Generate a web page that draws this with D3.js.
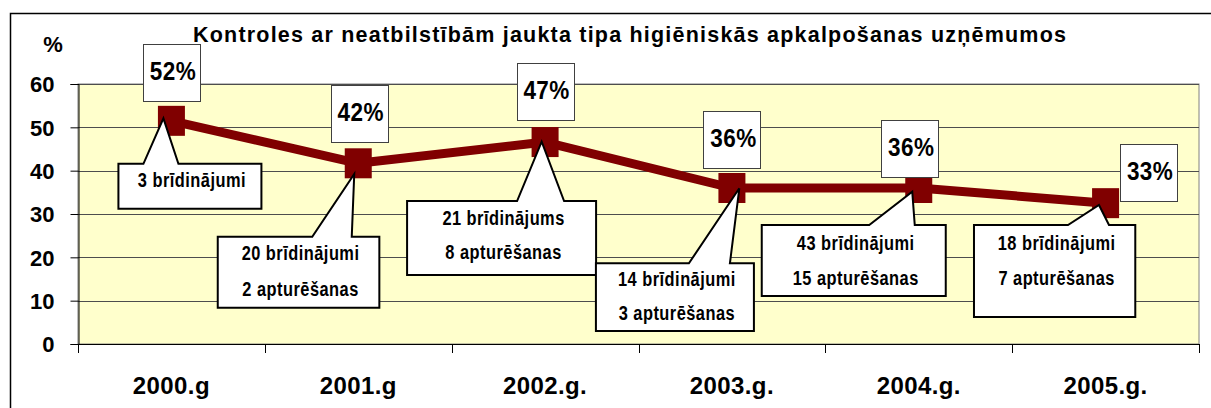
<!DOCTYPE html>
<html>
<head>
<meta charset="utf-8">
<script src="https://cdn.jsdelivr.net/npm/d3@7"></script>
<style>
  body { margin: 0; background: #fff; }
  svg { display: block; }
  .bold { font-family: "Liberation Sans", Arial, sans-serif; font-weight: bold; fill: #000; }
</style>
</head>
<body>
<div id="chart"></div>
<script>
const width = 1211;
const height = 408;

// data
const years = ["2000.g", "2001.g", "2002.g.", "2003.g.", "2004.g.", "2005.g."];
const shares = [51.5, 41.7, 46.6, 36, 36, 32.5];
const shareLabels = ["52%", "42%", "47%", "36%", "36%", "33%"];
const calloutLines = [
  ["3 brīdinājumi"],
  ["20 brīdinājumi", "2 apturēšanas"],
  ["21 brīdinājums", "8 apturēšanas"],
  ["14 brīdinājumi", "3 apturēšanas"],
  ["43 brīdinājumi", "15 apturēšanas"],
  ["18 brīdinājumi", "7 apturēšanas"]
];
const yTicks = [0, 10, 20, 30, 40, 50, 60];
const title = "Kontroles ar neatbilstībām jaukta tipa higiēniskās apkalpošanas uzņēmumos";

// layout of the annotation boxes, offsets from the point
const labelOffsets = [[0, -48], [1, -50], [0, -51], [0, -49], [-9, -40], [43, -31]];
const calloutLayout = [
  { bx: -53, by: 43, bw: 143, bh: 45, p1: -28, p2: 7, ax: -8, ay: -2.5, lines: [23.5] },
  { bx: -140.5, by: 73.4, bw: 161.6, bh: 71, p1: -46, p2: -6.5, ax: -4, ay: 10.7, lines: [23.3, 59.3] },
  { bx: -138, by: 59, bw: 189, bh: 74, p1: -28, p2: 19, ax: -3.4, ay: -0.4, lines: [24, 58] },
  { bx: -136, by: 75.3, bw: 158, bh: 67.7, p1: -43, p2: -2, ax: 7.4, ay: 0.3, lines: [22.7, 56.7] },
  { bx: -157, by: 37, bw: 184, bh: 71, p1: -49.5, p2: -4, ax: -6.5, ay: 3.7, lines: [25, 60] },
  { bx: -131.6, by: 21.8, bw: 161.3, bh: 92, p1: -37.6, p2: 3.4, ax: -6.6, ay: 1.8, lines: [25, 60] }
];

const plot = { left: 78, right: 1199, top: 84, bottom: 344 };

const svg = d3.select("#chart")
  .append("svg")
  .attr("width", width)
  .attr("height", height);

// outer frame
svg.append("path")
  .attr("d", `M10.5,${height + 2}V13.5H${width + 2}`)
  .attr("fill", "none")
  .attr("stroke", "#000")
  .attr("stroke-width", 1.5);

const x = d3.scaleBand().domain(years).range([plot.left, plot.right]);
const y = d3.scaleLinear().domain([0, 60]).range([plot.bottom, plot.top]);

// plot background
svg.append("rect")
  .attr("x", plot.left)
  .attr("y", plot.top)
  .attr("width", plot.right - plot.left)
  .attr("height", plot.bottom - plot.top)
  .attr("fill", "#FFFFCC")
  .attr("stroke", "#808080")
  .attr("stroke-width", 1);

// gridlines
svg.selectAll("line.grid")
  .data(yTicks.filter(d => d > 0))
  .enter()
  .append("line")
  .attr("class", "grid")
  .attr("x1", plot.left)
  .attr("x2", plot.right)
  .attr("y1", d => Math.round(y(d)) + 0.5)
  .attr("y2", d => Math.round(y(d)) + 0.5)
  .attr("stroke", "#4d4d4d")
  .attr("stroke-width", 1);

// y axis
const yAxis = svg.append("g")
  .attr("transform", `translate(${plot.left + 0.5},0)`)
  .call(d3.axisLeft(y).tickValues(yTicks).tickSize(8).tickPadding(16).tickFormat(d3.format("d")));
yAxis.select(".domain").attr("stroke", "#000");
yAxis.selectAll(".tick line").attr("stroke", "#000");
yAxis.selectAll(".tick text")
  .attr("class", "bold")
  .attr("font-size", 22)
  .attr("dy", "0.36em")
  .attr("fill", "#000");

svg.append("text")
  .attr("class", "bold")
  .attr("x", 53)
  .attr("y", 52)
  .attr("text-anchor", "middle")
  .attr("font-size", 22)
  .text("%");

// x axis
svg.append("line")
  .attr("x1", plot.left)
  .attr("x2", plot.right)
  .attr("y1", plot.bottom + 0.5)
  .attr("y2", plot.bottom + 0.5)
  .attr("stroke", "#000");

const boundaries = years.map(d => x(d)).concat([x(years[years.length - 1]) + x.bandwidth()]);
svg.selectAll("line.xtick")
  .data(boundaries)
  .enter()
  .append("line")
  .attr("class", "xtick")
  .attr("x1", d => Math.round(d) + 0.5)
  .attr("x2", d => Math.round(d) + 0.5)
  .attr("y1", plot.bottom)
  .attr("y2", plot.bottom + 9)
  .attr("stroke", "#000");

svg.selectAll("text.xlabel")
  .data(years)
  .enter()
  .append("text")
  .attr("class", "bold xlabel")
  .attr("x", d => x(d) + x.bandwidth() / 2)
  .attr("y", 394)
  .attr("text-anchor", "middle")
  .attr("font-size", 24)
  .attr("letter-spacing", 0.4)
  .text(d => d);

// title
svg.append("text")
  .attr("class", "bold")
  .attr("x", 629.5)
  .attr("y", 42)
  .attr("text-anchor", "middle")
  .attr("font-size", 21.5)
  .attr("textLength", 873)
  .attr("lengthAdjust", "spacing")
  .text(title);

// series
const points = years.map((d, i) => ({ year: d, v: shares[i], px: x(d) + x.bandwidth() / 2, py: y(shares[i]) }));

svg.append("path")
  .datum(points)
  .attr("d", d3.line().x(d => d.px).y(d => d.py))
  .attr("fill", "none")
  .attr("stroke", "#800000")
  .attr("stroke-width", 9)
  .attr("stroke-linejoin", "round");

svg.selectAll("rect.marker")
  .data(points)
  .enter()
  .append("rect")
  .attr("class", "marker")
  .attr("x", d => d.px - 13.5)
  .attr("y", d => d.py - 15)
  .attr("width", 27)
  .attr("height", 30)
  .attr("fill", "#800000");

// callouts (narrow bold text, squeezed horizontally)
points.forEach((p, i) => {
  const c = calloutLayout[i];
  const x0 = p.px + c.bx, y0 = p.py + c.by, x1 = x0 + c.bw, y1 = y0 + c.bh;
  const d = `M${x0},${y0}H${p.px + c.p1}L${p.px + c.ax},${p.py + c.ay}L${p.px + c.p2},${y0}H${x1}V${y1}H${x0}Z`;
  svg.append("path")
    .attr("d", d)
    .attr("fill", "#fff")
    .attr("stroke", "#000")
    .attr("stroke-width", 2)
    .attr("stroke-linejoin", "miter");
  calloutLines[i].forEach((line, j) => {
    svg.append("g")
      .attr("transform", `translate(${(x0 + x1) / 2 + 2},${y0 + c.lines[j]}) scale(0.8,1)`)
      .append("text")
      .attr("class", "bold")
      .attr("text-anchor", "middle")
      .attr("font-size", 20.5)
      .attr("letter-spacing", 0.6)
      .text(line);
  });
});

// value labels
points.forEach((p, i) => {
  const cx = p.px + labelOffsets[i][0];
  const cy = p.py + labelOffsets[i][1];
  svg.append("rect")
    .attr("x", Math.round(cx - 28.5) + 0.5)
    .attr("y", Math.round(cy - 28.5) + 0.5)
    .attr("width", 57)
    .attr("height", 57)
    .attr("fill", "#fff")
    .attr("stroke", "#404040")
    .attr("stroke-width", 1);
  svg.append("g")
    .attr("transform", `translate(${cx + 1.5},${cy + 7.5}) scale(0.9,1)`)
    .append("text")
    .attr("class", "bold")
    .attr("text-anchor", "middle")
    .attr("font-size", 25)
    .attr("letter-spacing", 0.5)
    .text(shareLabels[i]);
});
</script>
</body>
</html>
